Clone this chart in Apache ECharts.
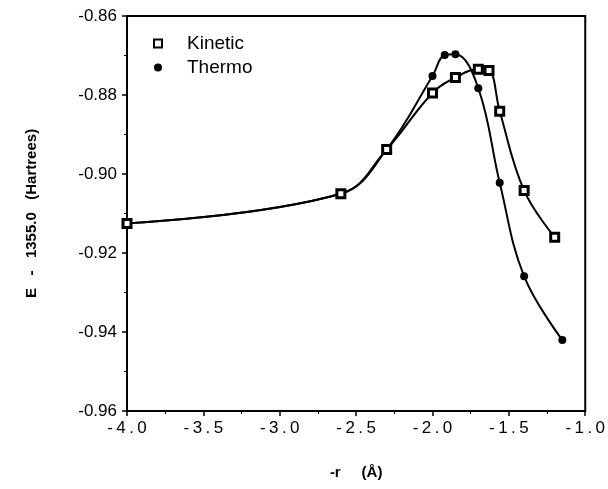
<!DOCTYPE html>
<html>
<head>
<meta charset="utf-8">
<script src="https://cdn.jsdelivr.net/npm/echarts@6/dist/echarts.min.js"></script>
<style>
html,body{margin:0;padding:0;background:#fff;}
#chart{width:608px;height:489px;}
</style>
</head>
<body>
<div id="chart"></div>
<script>
const xTicks = [-4.0, -3.5, -3.0, -2.5, -2.0, -1.5, -1.0];
const yTicks = [-0.96, -0.94, -0.92, -0.90, -0.88, -0.86];
const kineticX = [-4.0, -2.6, -2.3, -2.0, -1.85, -1.7, -1.63, -1.56, -1.4, -1.2];
const kineticY = [-0.9125, -0.905, -0.8938, -0.8795, -0.8756, -0.8735, -0.8738, -0.8841, -0.9042, -0.916];
const thermoX = [-4.0, -2.6, -2.3, -2.0, -1.92, -1.85, -1.7, -1.56, -1.4, -1.15];
const thermoY = [-0.9125, -0.905, -0.8938, -0.8752, -0.8699, -0.8697, -0.8783, -0.9022, -0.9259, -0.942];

const font = '"Liberation Sans", Arial, Helvetica, sans-serif';
const chart = echarts.init(document.getElementById('chart'), null, {renderer: 'canvas'});
chart.setOption({
  animation: false,
  backgroundColor: '#fff',
  grid: {left: 127, right: 21, top: 16, bottom: 78, show: true, borderColor: '#000', borderWidth: 2, backgroundColor: 'transparent'},
  legend: {
    orient: 'vertical', left: 148, top: 29, itemGap: 5, itemWidth: 8, itemHeight: 8,
    textStyle: {fontFamily: font, fontSize: 19, lineHeight: 19, color: '#000', padding: [0, 0, 0, 20]},
    data: [{name: 'Kinetic', icon: 'rect'}, {name: 'Thermo', icon: 'circle'}]
  },
  xAxis: {
    type: 'value', min: xTicks[0], max: xTicks[xTicks.length - 1], interval: 0.5,
    name: '-r     (Å)', nameLocation: 'middle', nameGap: 54,
    nameTextStyle: {fontFamily: font, fontSize: 15, fontWeight: 'bold', color: '#000'},
    axisLine: {lineStyle: {color: '#000', width: 2}},
    axisTick: {inside: false, length: 5, lineStyle: {color: '#000', width: 1.5}},
    minorTick: {show: true, splitNumber: 2, length: 3, lineStyle: {color: '#000'}},
    splitLine: {show: false},
    axisLabel: {fontFamily: font, fontSize: 17, color: '#000', margin: 9,
      formatter: v => v.toFixed(1).split('').join('\u2009')}
  },
  yAxis: {
    type: 'value', min: yTicks[0], max: yTicks[yTicks.length - 1], interval: 0.02,
    name: 'E   -   1355.0   (Hartrees)', nameLocation: 'middle', nameGap: 88,
    nameTextStyle: {fontFamily: font, fontSize: 15, fontWeight: 'bold', color: '#000'},
    axisLine: {lineStyle: {color: '#000', width: 2}},
    axisTick: {inside: false, length: 5, lineStyle: {color: '#000', width: 1.5}},
    minorTick: {show: true, splitNumber: 2, length: 3, lineStyle: {color: '#000'}},
    splitLine: {show: false},
    axisLabel: {fontFamily: font, fontSize: 17, color: '#000', margin: 10,
      formatter: v => v.toFixed(2)}
  },
  series: [
    {
      name: 'Thermo', type: 'line', smooth: 0.4,
      data: thermoX.map((x, i) => [x, thermoY[i]]),
      symbol: 'circle', symbolSize: 8,
      lineStyle: {color: '#000', width: 2},
      itemStyle: {color: '#000'}
    },
    {
      name: 'Kinetic', type: 'line', smooth: 0.4,
      data: kineticX.map((x, i) => [x, kineticY[i]]),
      symbol: 'rect', symbolSize: 8,
      lineStyle: {color: '#000', width: 2},
      itemStyle: {color: '#fff', borderColor: '#000', borderWidth: 3}
    }
  ]
});
</script>
</body>
</html>
